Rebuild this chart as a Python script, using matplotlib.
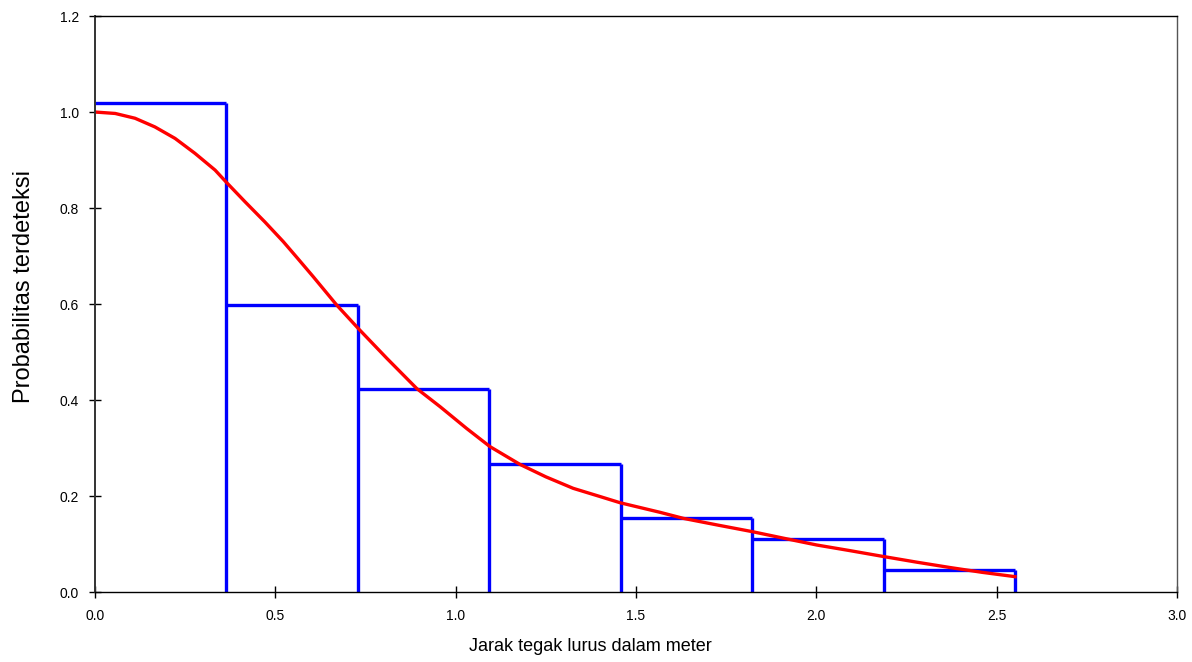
import numpy as np
import matplotlib
matplotlib.use("Agg")
import matplotlib.pyplot as plt

# histogram of detection probability per distance class
bin_edges = [0.0, 0.3645, 0.729, 1.0935, 1.458, 1.8225, 2.187, 2.5515]
bin_heights = [1.019, 0.598, 0.422, 0.266, 0.155, 0.110, 0.045]

# fitted detection function
curve_x = [0.0, 0.056, 0.111, 0.166, 0.222, 0.277, 0.333, 0.365, 0.416, 0.471,
           0.522, 0.562, 0.605, 0.670, 0.730, 0.809, 0.892, 0.957, 1.030, 1.095,
           1.178, 1.250, 1.326, 1.400, 1.456, 1.567, 1.631, 1.730, 1.821, 1.910,
           2.001, 2.095, 2.186, 2.280, 2.371, 2.460, 2.551]
curve_y = [1.000, 0.997, 0.987, 0.969, 0.945, 0.914, 0.879, 0.853, 0.813, 0.771,
           0.730, 0.695, 0.657, 0.598, 0.549, 0.487, 0.424, 0.386, 0.341, 0.303,
           0.266, 0.240, 0.216, 0.199, 0.186, 0.166, 0.1535, 0.139, 0.126, 0.112,
           0.098, 0.086, 0.074, 0.062, 0.051, 0.041, 0.032]

x_ticks = [0.0, 0.5, 1.0, 1.5, 2.0, 2.5, 3.0]
y_ticks = [0.0, 0.2, 0.4, 0.6, 0.8, 1.0, 1.2]

plt.rcParams['font.family'] = ['Liberation Sans', 'DejaVu Sans']

fig = plt.figure(figsize=(11.92, 6.62), dpi=100)
ax = fig.add_axes([0.0797, 0.1057, 0.9077, 0.8701])

# tops of the classes and the right-hand sides down to zero
ax.hlines(bin_heights, bin_edges[:-1], bin_edges[1:], color='#0000ff',
          linewidth=2.4, zorder=2)
ax.vlines(bin_edges[1:], 0, bin_heights, color='#0000ff',
          linewidth=2.4, zorder=2)
ax.plot(curve_x, curve_y, color='#ff0000', linewidth=2.4, zorder=3)

ax.set_xlim(0, 3.0)
ax.set_ylim(0, 1.2)
ax.set_xticks(x_ticks)
ax.set_yticks(y_ticks)
ax.set_xticklabels([f"{v:.1f}" for v in x_ticks])
ax.set_yticklabels([f"{v:.1f}" for v in y_ticks])
ax.tick_params(direction='inout', length=9, width=1, labelsize=10,
               colors='black')
ax.tick_params(axis='x', pad=8)
ax.tick_params(axis='y', pad=7)

for sp in ax.spines.values():
    sp.set_color('black')
    sp.set_linewidth(1.0)
    sp.set_zorder(4)
ax.spines['left'].set_color('#333333')
ax.spines['left'].set_linewidth(1.4)
ax.spines['right'].set_color('#555555')

ax.set_xlabel("Jarak tegak lurus dalam meter", fontsize=13)
ax.xaxis.set_label_coords(0.4575, -0.080)
ax.set_ylabel("Probabilitas terdeteksi", fontsize=17)
ax.yaxis.set_label_coords(-0.055, 0.53)

fig.savefig("out.png", dpi=100)
